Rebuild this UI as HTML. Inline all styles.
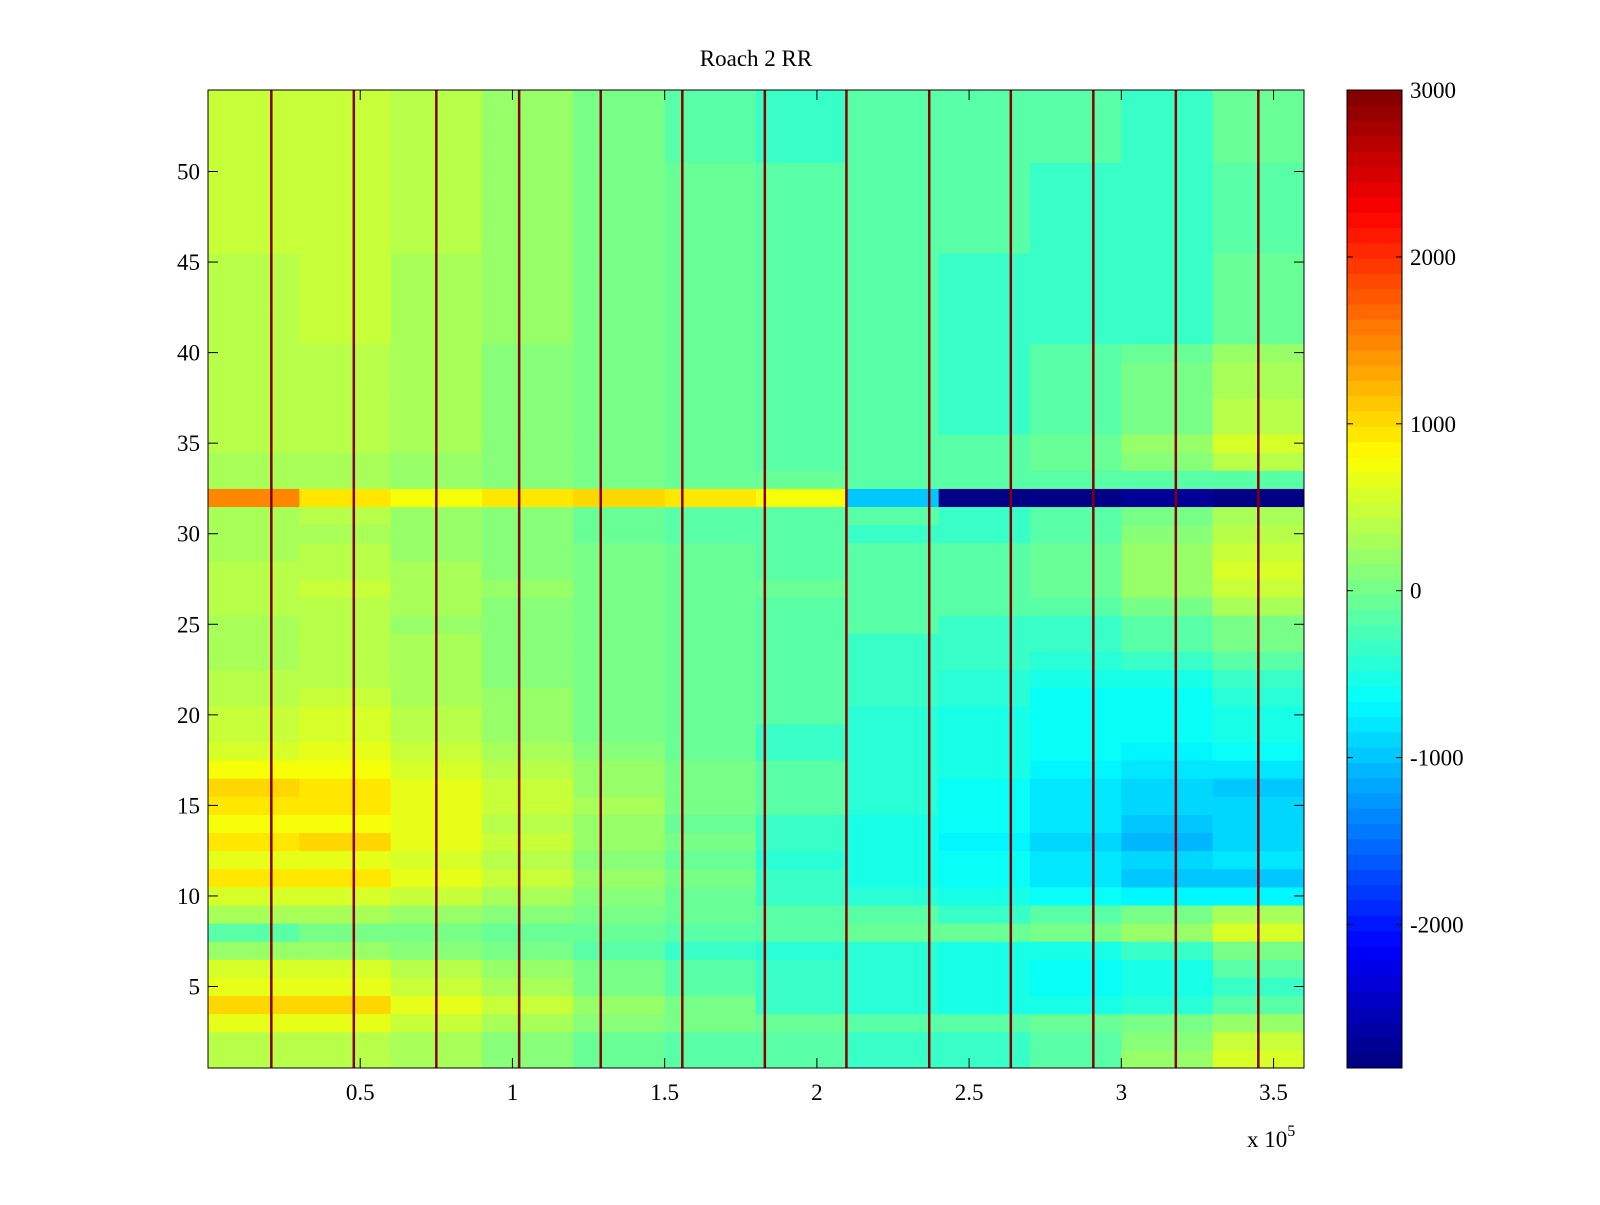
<!DOCTYPE html>
<html><head><meta charset="utf-8"><style>
body{margin:0;background:#fff;}
svg text{font-family:"Liberation Serif",serif;font-size:23px;fill:#000;}
</style></head><body>
<svg id="chart" width="1600" height="1200" xmlns="http://www.w3.org/2000/svg">
<rect width="1600" height="1200" fill="#fff"/>
<text x="756" y="66" text-anchor="middle">Roach 2 RR</text>
<g id="cells"></g><g id="spikes"></g><g id="axes"></g><g id="cbar"></g>
</svg>
<script>
// column block edges (x units, 1e5) and values in hundreds per row (row 1 = bottom)
const colEdges=[0,0.3,0.6,0.9,1.2,1.5,1.8,2.1,2.4,2.7,3.0,3.3,3.6];
const rowValues=[
[4,4,3,1,-1,-2,-2,-3,-3,-2,2,6],
[4,4,3,1,-1,-2,-2,-3,-3,-2,1,5],
[7,7,5,3,1,0,-1,-2,-2,-1,0,2],
[10,10,7,5,2,0,-3,-4,-5,-5,-4,-2],
[7,7,5,3,0,-2,-3,-4,-5,-6,-5,-3],
[6,6,4,2,0,-2,-3,-4,-5,-6,-5,-2],
[2,2,1,0,-2,-3,-4,-4,-5,-5,-3,0],
[-2,0,0,-1,-1,-2,-2,-1,-1,0,2,6],
[3,3,2,1,0,-1,-2,-2,-3,-2,0,3],
[6,6,5,3,1,-1,-3,-4,-5,-6,-7,-7],
[9,9,7,5,2,0,-3,-5,-6,-8,-10,-10],
[7,7,6,4,1,-1,-4,-5,-6,-8,-9,-8],
[9,10,7,5,2,0,-3,-5,-7,-9,-11,-9],
[8,8,7,4,2,-1,-3,-5,-6,-8,-10,-9],
[9,9,7,5,3,0,-2,-4,-6,-8,-9,-9],
[10,9,7,5,2,0,-2,-4,-6,-8,-9,-10],
[8,8,6,4,2,0,-2,-4,-5,-7,-8,-8],
[6,7,5,3,1,-1,-3,-4,-5,-6,-7,-6],
[5,6,4,2,0,-1,-3,-4,-5,-6,-6,-5],
[5,6,4,2,0,-1,-2,-4,-5,-6,-6,-5],
[4,5,3,2,0,-1,-2,-3,-4,-6,-6,-4],
[4,4,3,1,0,-1,-2,-3,-4,-5,-5,-3],
[3,4,3,1,0,-1,-2,-3,-3,-4,-3,-2],
[3,4,3,1,0,-1,-2,-3,-3,-3,-2,0],
[3,4,2,1,0,-1,-2,-2,-3,-3,-2,0],
[4,4,3,1,0,-1,-2,-2,-2,-2,0,3],
[4,5,3,2,0,-1,-1,-2,-2,-1,2,5],
[4,4,3,1,0,-1,-2,-2,-2,-1,2,6],
[3,4,2,1,0,-1,-2,-2,-2,-1,2,5],
[3,3,2,1,-1,-2,-2,-3,-3,-2,1,4],
[3,4,2,1,-1,-2,-2,-2,-3,-2,0,3],
[15,9,8,9,10,9,8,-10,-28,-28,-27,-28],
[3,3,2,1,0,-1,-1,-2,-2,-2,-2,-2],
[3,3,2,1,0,-1,-2,-2,-2,-1,1,4],
[4,4,3,1,0,-1,-2,-2,-2,-1,2,6],
[4,4,3,1,0,-1,-2,-2,-3,-2,0,4],
[4,4,3,1,0,-1,-2,-2,-3,-2,0,4],
[4,4,3,1,0,-1,-2,-2,-3,-2,0,3],
[4,4,3,1,0,-1,-2,-2,-3,-2,0,3],
[4,4,3,1,0,-1,-2,-2,-3,-2,-1,2],
[4,5,3,2,0,-1,-2,-2,-3,-3,-3,-1],
[4,5,3,2,0,-1,-2,-2,-3,-3,-3,-1],
[4,5,3,2,0,-1,-2,-2,-3,-3,-3,-1],
[4,5,3,2,0,-1,-2,-2,-3,-3,-3,-1],
[4,5,3,2,0,-1,-2,-2,-3,-3,-3,-1],
[5,5,4,2,0,-1,-2,-2,-2,-3,-3,-2],
[5,5,4,2,0,-1,-2,-2,-2,-3,-3,-2],
[5,5,4,2,0,-1,-2,-2,-2,-3,-3,-2],
[5,5,4,2,0,-1,-2,-2,-2,-3,-3,-2],
[5,5,4,2,0,-1,-2,-2,-2,-3,-3,-2],
[5,5,4,2,0,-2,-3,-2,-2,-2,-3,-1],
[5,5,4,2,0,-2,-3,-2,-2,-2,-3,-1],
[5,5,4,2,0,-2,-3,-2,-2,-2,-3,-1],
[5,5,4,2,0,-2,-3,-2,-2,-2,-3,-1]
];
const spikeX=[0.208,0.479,0.750,1.022,1.29,1.558,1.829,2.097,2.369,2.637,2.908,3.179,3.45];
const spikeValue=3000;
const xTicks=[0.5,1,1.5,2,2.5,3,3.5];
const xTickLabels=["0.5","1","1.5","2","2.5","3","3.5"];
const yTicks=[5,10,15,20,25,30,35,40,45,50];
const cTicks=[-2000,-1000,0,1000,2000,3000];

const L=208,R=1304,T=90,B=1068;
const xS=v=>L+(v/3.6)*(R-L);
const yS=v=>B-((v-0.5)/54)*(B-T);
const CMIN=-2860,CMAX=3000;
const cS=v=>B-((v-CMIN)/(CMAX-CMIN))*(B-T);
function jet(v){
  let t=(v-CMIN)/(CMAX-CMIN);t=Math.max(0,Math.min(0.9999,t));
  t=(Math.floor(t*64)+0.5)/64;
  const f=x=>Math.max(0,Math.min(1,x));
  const r=f(Math.min(4*t-1.5,-4*t+4.5)),g=f(Math.min(4*t-0.5,-4*t+3.5)),b=f(Math.min(4*t+0.5,-4*t+2.5));
  return `rgb(${Math.round(r*255)},${Math.round(g*255)},${Math.round(b*255)})`;
}
const NS="http://www.w3.org/2000/svg";
function mk(tag,attrs,parent){const e=document.createElementNS(NS,tag);for(const k in attrs)e.setAttribute(k,attrs[k]);parent.appendChild(e);return e;}
const cells=document.getElementById('cells');
rowValues.forEach((row,i)=>{
  const y0=yS(i+1.5),y1=yS(i+0.5);
  row.forEach((v,j)=>{
    const x0=xS(colEdges[j]),x1=xS(colEdges[j+1]);
    const r=mk('rect',{x:x0,y:y0,width:x1-x0+0.5,height:y1-y0+0.5,fill:jet(v*100)},cells);
    
    
  });
});
const sp=document.getElementById('spikes');
spikeX.forEach(x=>{
  const r=mk('rect',{x:xS(x)-1.25,y:T,width:2.5,height:B-T,fill:jet(spikeValue)},sp);
  
  
});
const ax=document.getElementById('axes');
const frame=mk('rect',{x:L,y:T,width:R-L,height:B-T,fill:'none',stroke:'#000','stroke-width':1},ax);


xTicks.forEach((v,i)=>{
  const x=xS(v);
  mk('line',{x1:x,y1:B,x2:x,y2:B-10,stroke:'#000'},ax);
  mk('line',{x1:x,y1:T,x2:x,y2:T+10,stroke:'#000'},ax);
  const t=mk('text',{x:x,y:B+32,'text-anchor':'middle'},ax);t.textContent=xTickLabels[i];
  
  
});
yTicks.forEach(v=>{
  const y=yS(v);
  mk('line',{x1:L,y1:y,x2:L+10,y2:y,stroke:'#000'},ax);
  mk('line',{x1:R,y1:y,x2:R-10,y2:y,stroke:'#000'},ax);
  const t=mk('text',{x:L-8,y:y+8,'text-anchor':'end'},ax);t.textContent=v;
  
  
});
const ex=mk('text',{x:1247,y:1147},ax);ex.innerHTML='x 10<tspan font-size="16" dy="-11">5</tspan>';


const cb=document.getElementById('cbar');
const CL=1347,CR=1402;
for(let k=0;k<64;k++){
  const v0=CMIN+(CMAX-CMIN)*k/64,v1=CMIN+(CMAX-CMIN)*(k+1)/64;
  const r=mk('rect',{x:CL,y:cS(v1),width:CR-CL,height:cS(v0)-cS(v1)+0.5,fill:jet((v0+v1)/2)},cb);
  
  
}
const cf=mk('rect',{x:CL,y:T,width:CR-CL,height:B-T,fill:'none',stroke:'#000'},cb);


cTicks.forEach(v=>{
  const y=cS(v);
  mk('line',{x1:CL,y1:y,x2:CL+6,y2:y,stroke:'#000'},cb);
  mk('line',{x1:CR,y1:y,x2:CR-6,y2:y,stroke:'#000'},cb);
  const t=mk('text',{x:CR+8,y:y+8},cb);t.textContent=v;
  
  
});
</script>
</body></html>
